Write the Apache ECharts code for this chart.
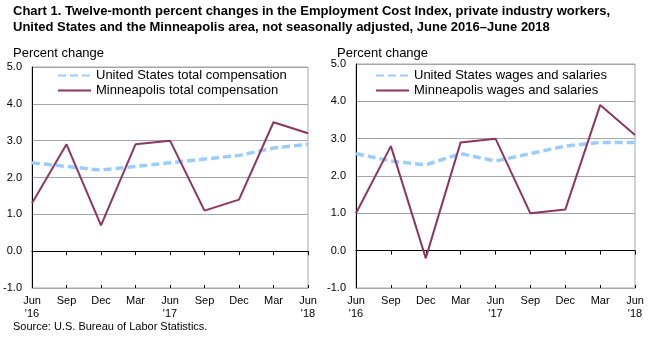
<!DOCTYPE html>
<html>
<head>
<meta charset="utf-8">
<script src="https://cdn.jsdelivr.net/npm/echarts@6/dist/echarts.min.js"></script>
<style>
  html, body { margin: 0; padding: 0; background: #fff; }
  #chart { width: 653px; height: 339px; }
</style>
</head>
<body>
<div id="chart"></div>
<script>
// Quarter labels, June 2016 through June 2018
const quarters = ["Jun\n'16", "Sep", "Dec", "Mar", "Jun\n'17", "Sep", "Dec", "Mar", "Jun\n'18"];

// Total compensation, 12-month percent change
const usTotalComp = [2.4, 2.3, 2.2, 2.3, 2.4, 2.5, 2.6, 2.8, 2.9];
const mspTotalComp = [1.3, 2.9, 0.7, 2.9, 3.0, 1.1, 1.4, 3.5, 3.2];

// Wages and salaries, 12-month percent change
const usWages = [2.6, 2.4, 2.3, 2.6, 2.4, 2.6, 2.8, 2.9, 2.9];
const mspWages = [1.0, 2.8, -0.2, 2.9, 3.0, 1.0, 1.1, 3.9, 3.1];

const FONT = 'Arial, "Liberation Sans", sans-serif';
const US_COLOR = '#99ccff';
const MSP_COLOR = '#8e3563';
const GRID_GRAY = '#a6a6a6';

const grids = [
  { left: 32, top: 67, width: 276, height: 221, show: true, borderColor: GRID_GRAY, borderWidth: 1 },
  { left: 356, top: 64, width: 279, height: 224, show: true, borderColor: GRID_GRAY, borderWidth: 1 }
];

function xAxesFor(gi) {
  return [
    // bottom axis carrying the quarter labels
    {
      type: 'category', gridIndex: gi, data: quarters, boundaryGap: false,
      position: 'bottom',
      axisLine: { onZero: false, lineStyle: { color: GRID_GRAY } },
      axisTick: { show: false },
      axisLabel: { color: '#000', fontFamily: FONT, fontSize: 11, lineHeight: 13, margin: 6, interval: 0 }
    },
    // zero line with ticks below
    {
      type: 'category', gridIndex: gi, data: quarters, boundaryGap: false,
      position: 'bottom',
      axisLine: { onZero: true, lineStyle: { color: '#000', width: 1 } },
      axisTick: { show: true, inside: false, length: 4, interval: 0, lineStyle: { color: '#000' } },
      axisLabel: { show: false }
    },
    // zero line ticks above
    {
      type: 'category', gridIndex: gi, data: quarters, boundaryGap: false,
      position: 'bottom',
      axisLine: { show: false, onZero: true },
      axisTick: { show: true, inside: true, length: 3, interval: 0, lineStyle: { color: '#000' } },
      axisLabel: { show: false }
    }
  ];
}

function yAxisFor(gi) {
  return {
    type: 'value', gridIndex: gi, min: -1, max: 5, interval: 1,
    axisLine: { show: true, onZero: false, lineStyle: { color: '#000' } },
    axisTick: { show: false },
    axisLabel: { color: '#000', fontFamily: FONT, fontSize: 11, margin: 10,
                 formatter: v => v.toFixed(1) },
    splitLine: { show: true, lineStyle: { color: GRID_GRAY, width: 1 } }
  };
}

function lineSeries(name, data, xi, yi, dashed) {
  return {
    name: name, type: 'line', data: data,
    xAxisIndex: xi, yAxisIndex: yi,
    symbol: 'none', smooth: false, z: dashed ? 3 : 4,
    color: dashed ? US_COLOR : MSP_COLOR,
    lineStyle: dashed
      ? { color: US_COLOR, width: 3.5, type: [8, 4] }
      : { color: MSP_COLOR, width: 2 }
  };
}

const legendText = { fontFamily: FONT, fontSize: 13, color: '#000' };

function legendAt(left, names) {
  return {
    orient: 'vertical', left: left, top: 69, padding: 0,
    itemWidth: 33, itemHeight: 14, itemGap: 2,
    itemStyle: { opacity: 0 },
    data: names,
    textStyle: legendText
  };
}

const option = {
  animation: false,
  backgroundColor: '#fff',
  title: [
    {
      text: 'Chart 1. Twelve-month percent changes in the Employment Cost Index, private industry workers,\nUnited States and the Minneapolis area, not seasonally adjusted, June 2016–June 2018',
      left: 8, top: -2,
      textStyle: { fontFamily: FONT, fontSize: 13, fontWeight: 'bold', color: '#000', lineHeight: 16 }
    },
    { text: 'Percent change', left: 8, top: 42, textStyle: { fontFamily: FONT, fontSize: 13, fontWeight: 'normal', color: '#000' } },
    { text: 'Percent change', left: 332, top: 42, textStyle: { fontFamily: FONT, fontSize: 13, fontWeight: 'normal', color: '#000' } },
    { text: 'Source: U.S. Bureau of Labor Statistics.', left: 8, top: 316, textStyle: { fontFamily: FONT, fontSize: 11, fontWeight: 'normal', color: '#000' } }
  ],
  legend: [
    legendAt(57, ['United States total compensation', 'Minneapolis total compensation']),
    legendAt(375, ['United States wages and salaries', 'Minneapolis wages and salaries'])
  ],
  grid: grids,
  xAxis: [...xAxesFor(0), ...xAxesFor(1)],
  yAxis: [yAxisFor(0), yAxisFor(1)],
  series: [
    lineSeries('United States total compensation', usTotalComp, 0, 0, true),
    lineSeries('Minneapolis total compensation', mspTotalComp, 0, 0, false),
    lineSeries('United States wages and salaries', usWages, 3, 1, true),
    lineSeries('Minneapolis wages and salaries', mspWages, 3, 1, false)
  ]
};

const chart = echarts.init(document.getElementById('chart'), null, { renderer: 'canvas' });
chart.setOption(option);
</script>
</body>
</html>
